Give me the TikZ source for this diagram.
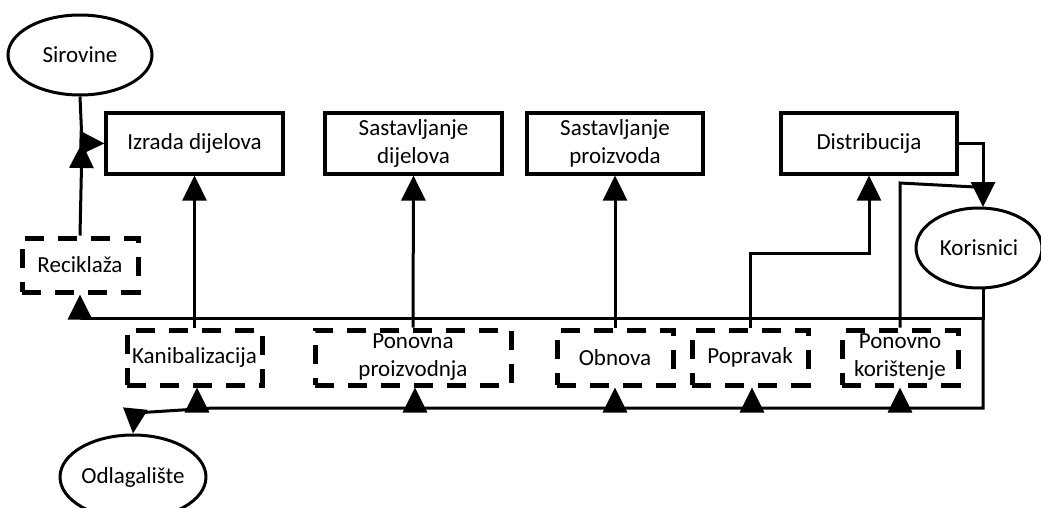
\documentclass[tikz,border=0pt]{standalone}
\usepackage{fontspec}
\setmainfont{Carlito}
\usetikzlibrary{shapes.geometric,arrows.meta}
\tikzset{
  base/.style={inner sep=0pt, align=center, font=\fontsize{23}{28}\selectfont},
  solidbox/.style={base, draw, rectangle, line width=3.2pt, minimum height=61pt},
  dashbox/.style={base, draw, rectangle, line width=5pt, dash pattern=on 19pt off 14pt, minimum height=55pt},
  oval/.style={base, draw, ellipse, line width=3pt},
  conn/.style={line width=3pt},
  arr/.style={conn, -{Triangle[length=25pt,width=24pt]}},
}
\begin{document}
\begin{tikzpicture}[x=1pt,y=-1pt]
\useasboundingbox (0,0) rectangle (1041,508);
% nodes
\node[oval, minimum width=144pt, minimum height=80pt] (sir) at (80,55) {Sirovine};
\node[solidbox, minimum width=177pt] (izr) at (194.5,143.5) {Izrada dijelova};
\node[solidbox, minimum width=177pt] (sd) at (413.5,143.5) {Sastavljanje\\dijelova};
\node[solidbox, minimum width=176pt] (sp) at (615,143.5) {Sastavljanje\\proizvoda};
\node[solidbox, minimum width=176pt] (dis) at (869,143.5) {Distribucija};
\node[oval, minimum width=126pt, minimum height=80pt] (kor) at (979,248) {Korisnici};
\node[dashbox, minimum width=116pt, minimum height=54pt] (rec) at (80,265) {Reciklaža};
\node[dashbox, minimum width=135pt] (kan) at (194.5,357.5) {Kanibalizacija};
\node[dashbox, minimum width=196pt] (pp) at (413,357.5) {Ponovna\\proizvodnja};
\node[dashbox, minimum width=116pt] (obn) at (615,357.5) {Obnova};
\node[dashbox, minimum width=116pt] (pop) at (750,357.5) {Popravak};
\node[dashbox, minimum width=116pt] (pk) at (900,357.5) {Ponovno\\korištenje};
\node[oval, minimum width=143pt, minimum height=84pt] (odl) at (133,477) {Odlagalište};
% junction coordinates
\coordinate (j1) at (82,143);
\coordinate (kt) at (983,207);
\coordinate (kb) at (983,288);
\coordinate (ra) at (983,318);
\coordinate (rb) at (983,408);
% connectors
\draw[arr] (sir.south) -- (j1) -- (izr.west);
\draw[arr] (rec.north) -- (j1);
\draw[arr] (kan.north) -- (izr.south);
\draw[arr] (pp.north) -- (sd.south);
\draw[arr] (obn.north) -- (sp.south);
\draw[arr] (pop.north) -- (750,253) -| (dis.south);
\draw[arr] (dis.east) -| (kt);
\draw[conn] (pk.north) -- (900,183) -- (975,187);
\draw[arr] (kb) -- (ra) -- (80,318) -- (rec.south);
\draw[arr] (ra) -- (rb) -- (213,408) -- (135,413) -- (odl.north);
\draw[arr] (197,411) -- (kan.south -| 197,0);
\draw[arr] (415,411) -- (pp.south -| 415,0);
\draw[arr] (615,411) -- (obn.south);
\draw[arr] (752,411) -- (pop.south -| 752,0);
\draw[arr] (900,411) -- (pk.south);
\end{tikzpicture}
\end{document}
